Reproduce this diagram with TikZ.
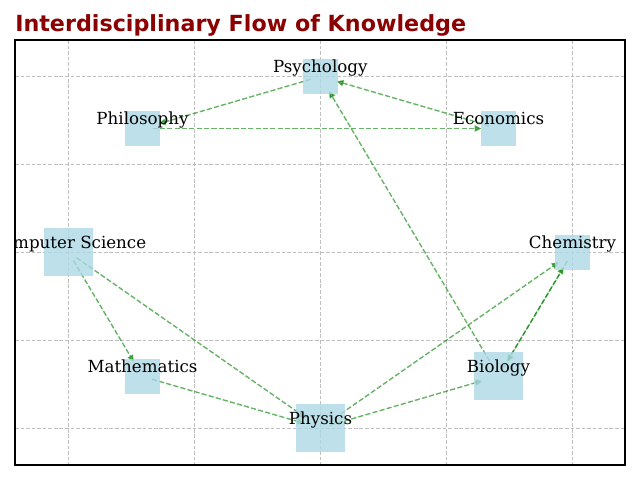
\documentclass[tikz,border=0pt]{standalone}
\usepackage{fontspec}
\setmainfont{DejaVu Serif}
\newfontfamily\titlefont{DejaVu Sans}
\usetikzlibrary{positioning, arrows.meta, backgrounds}

\definecolor{titlered}{RGB}{139,0,0}
\definecolor{boxblue}{RGB}{173,216,230}
\definecolor{flowgreen}{RGB}{0,128,0}
\definecolor{gridgray}{RGB}{176,176,176}

\begin{document}
\begin{tikzpicture}[
        x=0.72pt, y=-0.72pt,
        field/.style={fill=boxblue, fill opacity=0.8, minimum size=25.2pt, inner sep=0pt},
        bigfield/.style={field, minimum size=35pt},
        fieldname/.style={anchor=base, inner sep=0pt, font=\fontsize{12}{14}\selectfont},
        flow/.style={flowgreen, opacity=0.6, line width=1pt, dash pattern=on 3.7pt off 1.6pt,
            -{Triangle[length=5pt, width=4.5pt]}, shorten <=7.2pt, shorten >=12.2pt},
        gridline/.style={gridgray, opacity=0.8, line width=0.5pt, dash pattern=on 2.6pt off 1.4pt}
    ]
    \useasboundingbox (0,0) rectangle (640,480);

    % title
    \node[anchor=base west, inner sep=0pt, text=titlered,
        font=\titlefont\bfseries\fontsize{16}{19}\selectfont] (title) at (15,31.5)
        {Interdisciplinary Flow of Knowledge};

    % fields
    \node[field] (psy) at (320.3,76.5) {};
    \node[field] (phi) at (142.5,128.5) {};
    \node[field] (eco) at (498.5,128.5) {};
    \node[bigfield] (cs) at (68.3,252) {};
    \node[field] (che) at (572.5,252.5) {};
    \node[field] (mat) at (142.5,376.5) {};
    \node[bigfield] (bio) at (498.5,376) {};
    \node[bigfield] (phy) at (320.5,428) {};

    \begin{scope}
        \clip (15,40) rectangle (625,465);
        \node[fieldname] (psy-name) at ([yshift=2.6pt]psy.center) {Psychology};
        \node[fieldname] (phi-name) at ([yshift=2.6pt]phi.center) {Philosophy};
        \node[fieldname] (eco-name) at ([yshift=2.6pt]eco.center) {Economics};
        \node[fieldname] (cs-name) at ([yshift=2.6pt]cs.center) {Computer Science};
        \node[fieldname] (che-name) at ([yshift=2.6pt]che.center) {Chemistry};
        \node[fieldname] (mat-name) at ([yshift=2.6pt]mat.center) {Mathematics};
        \node[fieldname] (bio-name) at ([yshift=2.6pt]bio.center) {Biology};
        \node[fieldname] (phy-name) at ([yshift=2.6pt]phy.center) {Physics};
    \end{scope}

    \begin{scope}[on background layer]
        % grid
        \foreach \gx in {68,194,320,446,572}
            \draw[gridline] (\gx,40) -- (\gx,465);
        \foreach \gy in {76,164,252,340,428}
            \draw[gridline] (15,\gy) -- (625,\gy);

        % flows
        \draw[flow] (phi.center) -- (eco.center);
        \draw[flow] (psy.center) -- (phi.center);
        \draw[flow] (eco.center) -- (psy.center);
        \draw[flow] (bio.center) -- (psy.center);
        \draw[flow] (cs.center) -- (mat.center);
        \draw[flow] (cs.center) -- (phy.center);
        \draw[flow] (mat.center) -- (phy.center);
        \draw[flow] (phy.center) -- (che.center);
        \draw[flow] (phy.center) -- (bio.center);
        \draw[flow] (bio.center) -- (che.center);
        \draw[flow] (che.center) -- (bio.center);
    \end{scope}

    % frame
    \draw[line width=0.8pt] (15,40) rectangle (625,465);

\end{tikzpicture}
\end{document}
